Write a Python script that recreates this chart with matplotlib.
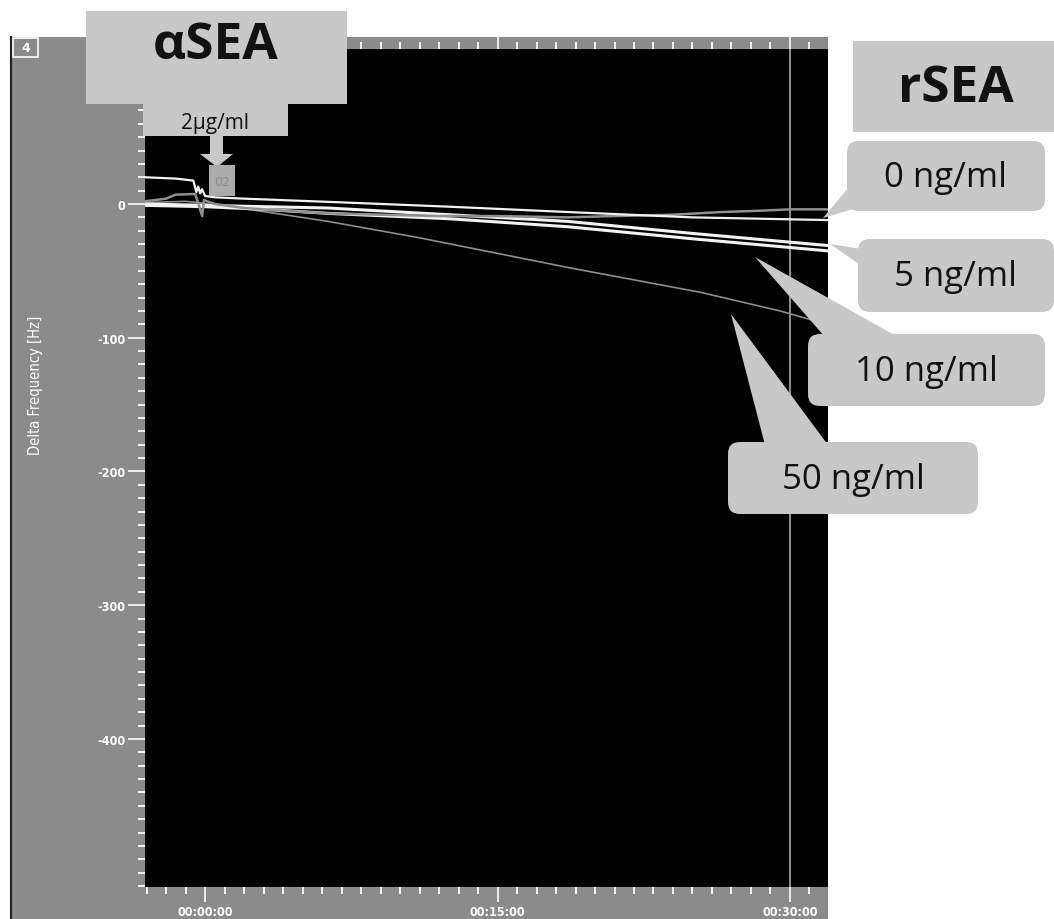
import matplotlib
matplotlib.use("Agg")
import matplotlib.pyplot as plt
from matplotlib.patches import Rectangle, Polygon, FancyBboxPatch
from matplotlib.ticker import MultipleLocator, FixedLocator, FixedFormatter

plt.rcParams['axes.unicode_minus'] = False

# time in minutes, delta frequency in Hz
t_gray = [-3.1, -2.0, -1.5, -0.5, -0.15, -0.05, 0.1, 0.5, 1.0, 2.0, 4.0, 6.3,
          9.0, 12.0, 15.0, 18.6, 21.0, 24.0, 26.5, 28.5, 30.0, 31.9]
f_gray = [2, 4, 7, 7.5, -9, 3, 2, 0, -1, -3, -5, -7,
          -8, -9, -9, -10, -9, -8, -6, -5, -4, -4]

t_white = [-3.1, -1.5, -0.6, -0.45, -0.35, -0.25, -0.15, 0.0, 0.5, 2.0,
           6.5, 12.5, 18.6, 25.0, 31.9]
f_white = [20, 19, 17.5, 9, 13, 8, 11, 6, 5, 4,
           1.5, -2, -6, -10, -12]

t_thick = [-3.1, 0.0, 3.0, 6.3, 12.5, 18.6, 25.0, 31.9]
f_thick1 = [0, -1, -2, -3, -8, -13, -22, -31]
f_thick2 = [-1, -2, -4, -7, -11, -17, -26, -35]

t_steep = [-3.1, -1.0, -0.3, 0.5, 1.8, 6.3, 10.9, 18.8, 25.4, 29.5, 31.9]
f_steep = [1, 2, 1, -1, -3, -13, -25, -48, -66, -80, -90]

x_major = [0, 15, 30]
x_labels = ['00:00:00', '00:15:00', '00:30:00']
y_major = [-400, -300, -200, -100, 0, 100]

W, H = 1054, 920
fig = plt.figure(figsize=(W / 100, H / 100), dpi=100, facecolor='white')

# gray instrument panel behind the plot
panel = fig.add_axes([0, 0, 1, 1], zorder=0)
panel.set_xlim(0, W)
panel.set_ylim(H, 0)
panel.axis('off')
panel.add_patch(Rectangle((10, 38), 818, H - 38, fc='#8b8b8b', ec='none'))
panel.plot([10.5, 10.5], [38, H], color='#222222', lw=1.5)
panel.add_patch(Rectangle((13, 39), 25, 19, fc='#8b8b8b', ec='white', lw=1.2))
panel.text(25.5, 48.5, '4', color='white', fontsize=9, fontweight='bold',
           ha='center', va='center')

ax = fig.add_axes([145 / W, 1 - 888 / H, 683 / W, 838 / H], zorder=1)
ax.set_facecolor('black')
ax.set_xlim(-3.08, 31.95)
ax.set_ylim(-510.7, 115.9)
for s in ax.spines.values():
    s.set_visible(False)

ax.axvline(30, color='#8a8a8a', lw=1.5, zorder=1)
ax.plot(t_steep, f_steep, color='#8d8d8d', lw=1.2, zorder=2)
ax.plot(t_thick, f_thick2, color='#f2f2f2', lw=2.2, zorder=3)
ax.plot(t_thick, f_thick1, color='#f2f2f2', lw=2.2, zorder=3)
ax.plot(t_gray, f_gray, color='#909090', lw=1.8, zorder=4)
ax.plot(t_white, f_white, color='#f2f2f2', lw=1.6, zorder=5)

ax.xaxis.set_major_locator(FixedLocator(x_major))
ax.xaxis.set_major_formatter(FixedFormatter(x_labels))
ax.xaxis.set_minor_locator(MultipleLocator(1))
ax.yaxis.set_major_locator(FixedLocator(y_major))
ax.yaxis.set_minor_locator(MultipleLocator(10))
ax.tick_params(axis='both', which='both', colors='white', direction='out')
ax.tick_params(axis='x', which='major', length=11, width=1.2, labelsize=9, pad=2,
               top=True)
ax.tick_params(axis='x', which='minor', length=5, width=1.3, top=True)
ax.tick_params(axis='y', which='major', length=12, width=1.2, labelsize=9, pad=2)
ax.tick_params(axis='y', which='minor', length=5, width=1.3)
for lab in ax.get_xticklabels() + ax.get_yticklabels():
    lab.set_fontstretch('condensed')
    lab.set_fontweight('bold')

fig.text(36 / W, 1 - 385 / H, 'Delta Frequency [Hz]', color='white', fontsize=10.5,
         rotation=90, ha='center', va='center', fontstretch='condensed')

# callouts on top of everything
ov = fig.add_axes([0, 0, 1, 1], zorder=5)
ov.set_xlim(0, W)
ov.set_ylim(H, 0)
ov.axis('off')
ov.patch.set_alpha(0)

fill = '#c8c8c8'
ov.add_patch(Polygon([(86, 12), (347, 12), (347, 105), (288, 105), (288, 137),
                      (223, 137), (223, 155), (233, 155), (217, 168), (200, 155),
                      (210, 155), (210, 137), (143, 137), (143, 105), (86, 105)],
                     closed=True, fc=fill, ec='none'))
ov.add_patch(Rectangle((209, 166), 26, 31, fc='#ababab', ec='none'))
ov.text(222, 182, '02', color='#8a8a8a', fontsize=9, ha='center', va='center')
ov.text(216, 46, 'αSEA', fontsize=37, fontweight='bold', family='Open Sans',
        ha='center', va='center', color='#111111')
ov.text(215, 123, '2μg/ml', fontsize=15, family='Open Sans',
        ha='center', va='center', color='#111111')

ov.add_patch(Rectangle((853, 42), 201, 91, fc=fill, ec='none'))
ov.text(956, 89, 'rSEA', fontsize=37, fontweight='bold', family='Open Sans',
        ha='center', va='center', color='#111111')

boxes = [
    ('0 ng/ml', (847, 142, 198, 70), [(823, 219), (849, 188), (860, 208)]),
    ('5 ng/ml', (858, 240, 196, 73), [(830, 245), (862, 250), (866, 270)]),
    ('10 ng/ml', (808, 335, 237, 72), [(755, 258), (825, 338), (898, 338)]),
    ('50 ng/ml', (728, 443, 250, 72), [(731, 315), (765, 446), (828, 446)]),
]
for label, (bx, by, bw, bh), wedge in boxes:
    ov.add_patch(Polygon(wedge, closed=True, fc=fill, ec='none'))
    ov.add_patch(FancyBboxPatch((bx, by), bw, bh,
                                boxstyle='round,pad=0,rounding_size=12',
                                fc=fill, ec='none'))
    ov.text(bx + bw / 2, by + bh / 2 + 1, label, fontsize=25, family='Open Sans',
            ha='center', va='center', color='#111111')

fig.savefig('out.png', dpi=100, facecolor='white')
